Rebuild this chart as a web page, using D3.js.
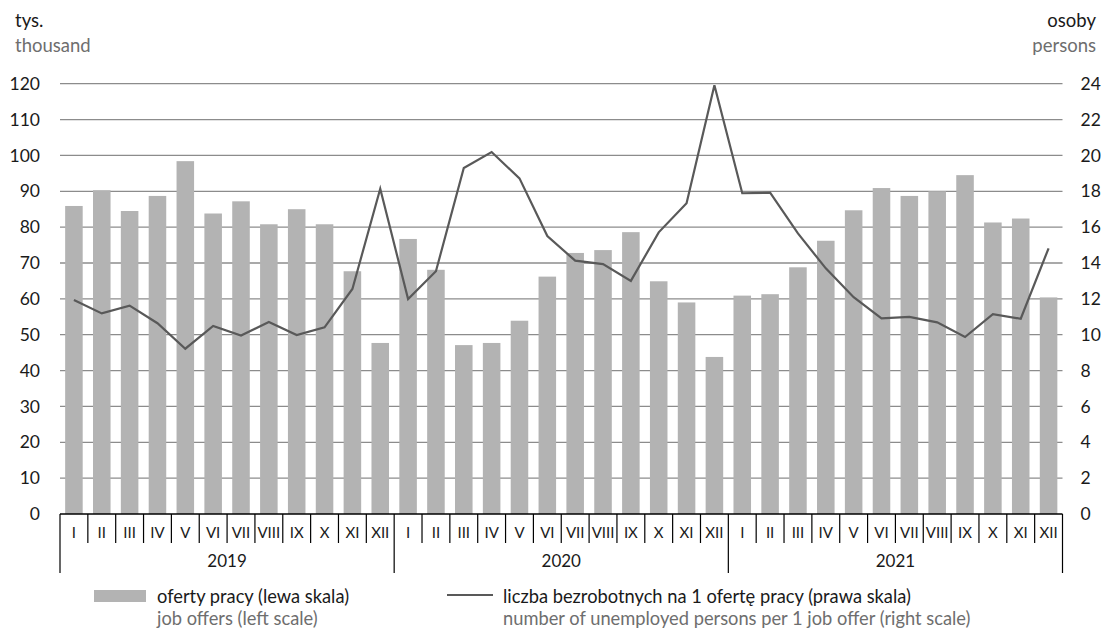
<!DOCTYPE html>
<html><head><meta charset="utf-8">
<script src="https://cdn.jsdelivr.net/npm/d3@7"></script>
<style>
body{margin:0;background:#fff;}
text{font-family:Lato,"Open Sans",sans-serif;}
</style></head>
<body><svg id="c" width="1115" height="632"></svg>
<script>
const years = ["2019","2020","2021"];
const months = ["I","II","III","IV","V","VI","VII","VIII","IX","X","XI","XII"];
const jobOffers2019 = [85.9,90.3,84.5,88.7,98.4,83.8,87.2,80.8,85.0,80.8,67.7,47.7];
const jobOffers2020 = [76.7,68.1,47.1,47.7,53.9,66.2,72.8,73.6,78.6,64.9,59.0,43.8];
const jobOffers2021 = [60.9,61.3,68.8,76.2,84.7,90.9,88.7,90.0,94.5,81.3,82.4,60.4];
const unemployedPerOffer2019 = [11.94,11.19,11.62,10.64,9.22,10.49,9.95,10.71,9.98,10.41,12.55,18.14];
const unemployedPerOffer2020 = [11.99,13.54,19.30,20.19,18.72,15.50,14.13,13.94,13.00,15.71,17.33,23.91];
const unemployedPerOffer2021 = [17.89,17.92,15.65,13.70,12.09,10.91,10.99,10.69,9.87,11.15,10.89,14.82];
const leftTicks = [0,10,20,30,40,50,60,70,80,90,100,110,120];
const rightTicks = [0,2,4,6,8,10,12,14,16,18,20,22,24];

const offers = [...jobOffers2019,...jobOffers2020,...jobOffers2021];
const ratio = [...unemployedPerOffer2019,...unemployedPerOffer2020,...unemployedPerOffer2021];
const data = offers.map((v,i)=>({i, year:years[Math.floor(i/12)], month:months[i%12], offers:v, ratio:ratio[i]}));

const svg = d3.select("#c");
const L = 60, R = 1062.5, T = 83.7, B = 514;

const x = d3.scaleBand().domain(data.map(d=>d.i)).range([L,R]).paddingInner(0.37).paddingOuter(0.185);
const yL = d3.scaleLinear().domain([0,120]).range([B,T]);
const yR = d3.scaleLinear().domain([0,24]).range([B,T]);
const step = x.step();
const x0 = L;

// gridlines
svg.append("g").selectAll("line").data(leftTicks.filter(t=>t>0)).join("line")
  .attr("x1",L).attr("x2",R).attr("y1",d=>yL(d)).attr("y2",d=>yL(d))
  .attr("stroke","#8c8c8c").attr("stroke-width",1.3);

// bars
svg.append("g").selectAll("rect").data(data).join("rect")
  .attr("x",d=>x(d.i)).attr("width",x.bandwidth())
  .attr("y",d=>yL(d.offers)).attr("height",d=>B-yL(d.offers))
  .attr("fill","#b3b3b3");

// line
const line = d3.line().x(d=>x(d.i)+x.bandwidth()/2).y(d=>yR(d.ratio));
svg.append("path").datum(data).attr("d",line).attr("fill","none")
  .attr("stroke","#595959").attr("stroke-width",2.2).attr("stroke-linejoin","miter");

// left axis labels
const gl = svg.append("g").attr("transform",`translate(${L-20},0)`)
  .call(d3.axisLeft(yL).tickValues(leftTicks).tickSize(0).tickPadding(0));
gl.select(".domain").remove();
gl.selectAll("text").attr("font-size",17.5).attr("fill","#1a1a1a");

const gr = svg.append("g").attr("transform",`translate(${R+18},0)`)
  .call(d3.axisRight(yR).tickValues(rightTicks).tickSize(0).tickPadding(0));
gr.select(".domain").remove();
gr.selectAll("text").attr("font-size",17.5).attr("fill","#1a1a1a");

// x axis baseline
svg.append("line").attr("x1",L).attr("x2",R).attr("y1",B).attr("y2",B).attr("stroke","#000").attr("stroke-width",1.3);
// month separators
const bounds = d3.range(0,37);
svg.append("g").selectAll("line").data(bounds).join("line")
  .attr("x1",i=>x0+i*step).attr("x2",i=>x0+i*step)
  .attr("y1",B).attr("y2",i=>i%12===0?573:543)
  .attr("stroke","#000").attr("stroke-width",1.2);
// month labels
svg.append("g").selectAll("text").data(data).join("text")
  .attr("x",d=>x(d.i)+x.bandwidth()/2).attr("y",533).attr("dy","0.35em")
  .attr("text-anchor","middle").attr("font-size",15).attr("fill","#1a1a1a")
  .text(d=>d.month);
// year labels
svg.append("g").selectAll("text").data(years).join("text")
  .attr("x",(d,k)=>x0+(k*12+6)*step).attr("y",561.5).attr("dy","0.35em")
  .attr("text-anchor","middle").attr("font-size",17).attr("fill","#1a1a1a")
  .text(d=>d);

// axis titles
svg.append("text").attr("x",15).attr("y",27).attr("font-size",18.5).attr("fill","#1a1a1a").text("tys.");
svg.append("text").attr("x",15).attr("y",52).attr("font-size",18.5).attr("fill","#6e6e6e").text("thousand");
svg.append("text").attr("x",1096).attr("y",27).attr("text-anchor","end").attr("font-size",18.5).attr("fill","#1a1a1a").text("osoby");
svg.append("text").attr("x",1096).attr("y",52).attr("text-anchor","end").attr("font-size",18.5).attr("fill","#6e6e6e").text("persons");

// legend
const ls = 18.3;
svg.append("rect").attr("x",94).attr("y",590).attr("width",52).attr("height",12).attr("fill","#b3b3b3");
svg.append("text").attr("x",157).attr("y",603).attr("font-size",ls).attr("fill","#1a1a1a").text("oferty pracy (lewa skala)");
svg.append("text").attr("x",157).attr("y",625).attr("font-size",ls).attr("fill","#6e6e6e").text("job offers (left scale)");
svg.append("line").attr("x1",447).attr("x2",493).attr("y1",595).attr("y2",595).attr("stroke","#595959").attr("stroke-width",2.2);
svg.append("text").attr("x",503).attr("y",603).attr("font-size",ls).attr("fill","#1a1a1a").text("liczba bezrobotnych na 1 ofertę pracy (prawa skala)");
svg.append("text").attr("x",503).attr("y",625).attr("font-size",ls).attr("fill","#6e6e6e").text("number of unemployed persons per 1 job offer (right scale)");
</script></body></html>
